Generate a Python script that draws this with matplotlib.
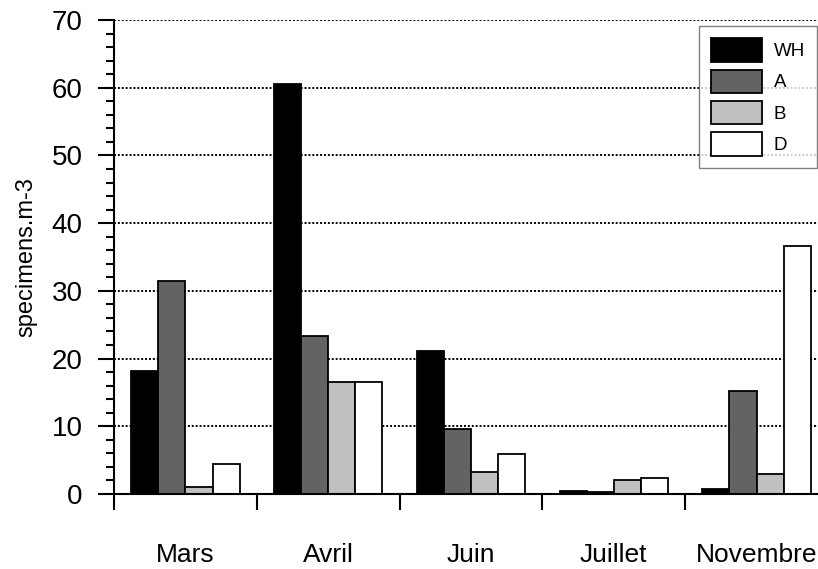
import matplotlib.pyplot as plt
from matplotlib.ticker import MultipleLocator

plt.rcParams['font.family'] = ['Liberation Sans', 'DejaVu Sans']

months = ["Mars", "Avril", "Juin", "Juillet", "Novembre"]
series = ["WH", "A", "B", "D"]
wh = [18.2, 60.5, 21.1, 0.5, 0.8]
a = [31.5, 23.3, 9.6, 0.25, 15.2]
b = [1.0, 16.6, 3.2, 2.0, 2.9]
d = [4.4, 16.6, 5.9, 2.4, 36.6]
colors = ["#000000", "#636363", "#c0c0c0", "#ffffff"]

fig = plt.figure(figsize=(8.18, 5.69), dpi=100)
# axes runs a little past the right edge, like the original
ax = fig.add_axes([114 / 818, 75 / 569, 714 / 818, 474 / 569])

bw = 0.19
for k, (name, vals) in enumerate(zip(series, [wh, a, b, d])):
    xs = [i + 0.12 + k * bw for i in range(len(months))]
    ax.bar(xs, vals, width=bw, align="edge", color=colors[k],
           edgecolor="black", linewidth=1.3, label=name, zorder=3)

ax.set_xlim(0, len(months))
ax.set_ylim(0, 70)

# group boundaries as major ticks, labels on minor ticks
ax.set_xticks(range(len(months) + 1))
ax.set_xticklabels([])
ax.set_xticks([i + 0.5 for i in range(len(months))], minor=True)
ax.set_xticklabels(months, minor=True)
ax.tick_params(axis="x", which="major", direction="out", length=11.5, width=1.5)
ax.tick_params(axis="x", which="minor", length=0, pad=35, labelsize=19)

ax.yaxis.set_major_locator(MultipleLocator(10))
ax.yaxis.set_minor_locator(MultipleLocator(2))
ax.tick_params(axis="y", which="major", direction="out", length=11.5, width=1.5,
               labelsize=20, pad=11)
ax.tick_params(axis="y", which="minor", direction="out", length=6, width=1.5)

ax.yaxis.grid(True, linestyle=(0, (1, 1)), color="black", linewidth=1.4, zorder=1)
ax.set_axisbelow(True)

for s in ["top", "right"]:
    ax.spines[s].set_visible(False)
for s in ["left", "bottom"]:
    ax.spines[s].set_linewidth(1.5)
ax.spines["bottom"].set_zorder(4)

ax.set_ylabel("specimens.m-3", fontsize=17, labelpad=10)

leg = ax.legend(loc="upper right", bbox_to_anchor=(817 / 818, 1 - 26 / 569),
                bbox_transform=fig.transFigure, fancybox=False, fontsize=13.5,
                handlelength=2.75, handleheight=1.55, labelspacing=0.42,
                handletextpad=0.6, borderpad=0.65, borderaxespad=0)
leg.get_frame().set_edgecolor("#606060")
leg.get_frame().set_linewidth(1.0)
leg.set_zorder(5)

fig.savefig("out.png", dpi=100)
